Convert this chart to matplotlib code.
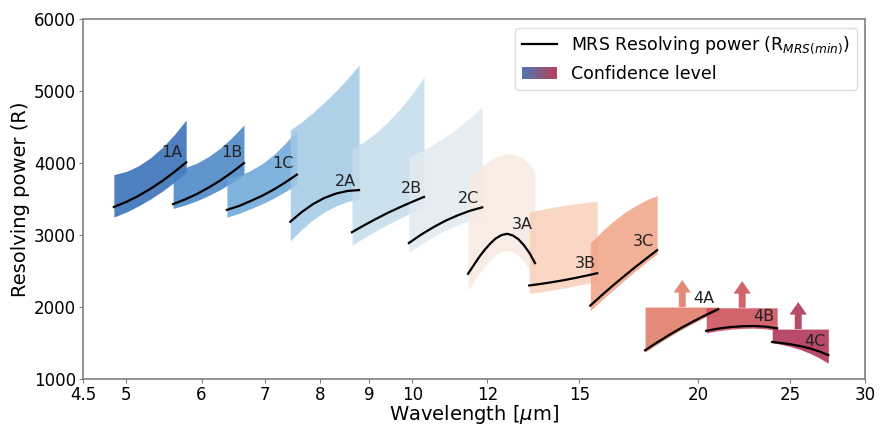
import matplotlib
matplotlib.use('Agg')
import matplotlib.pyplot as plt
from matplotlib.colors import LinearSegmentedColormap
from matplotlib.legend_handler import HandlerBase
from matplotlib.lines import Line2D
from matplotlib.patches import Rectangle, Patch
from matplotlib.ticker import NullLocator

# band names and values (wavelength in um, R)
bands = ['1A', '1B', '1C', '2A', '2B', '2C', '3A', '3B', '3C', '4A', '4B', '4C']

wl_1A = [4.85, 5.00, 5.15, 5.30, 5.46, 5.62, 5.78]
R_1A = [3390, 3461, 3546, 3642, 3755, 3879, 4010]
up_1A = [3840, 3884, 3963, 4073, 4221, 4399, 4600]
lo_1A = [3250, 3320, 3405, 3500, 3612, 3737, 3870]

wl_1B = [5.60, 5.76, 5.93, 6.10, 6.28, 6.46, 6.65]
R_1B = [3430, 3493, 3569, 3658, 3759, 3873, 4000]
up_1B = [3900, 3935, 3998, 4089, 4208, 4355, 4530]
lo_1B = [3370, 3416, 3476, 3548, 3632, 3730, 3840]

wl_1C = [6.38, 6.57, 6.75, 6.95, 7.15, 7.35, 7.56]
R_1C = [3350, 3404, 3470, 3546, 3633, 3731, 3840]
up_1C = [3790, 3827, 3895, 3991, 4118, 4274, 4460]
lo_1C = [3250, 3300, 3363, 3433, 3513, 3604, 3700]

wl_2A = [7.44, 7.65, 7.86, 8.08, 8.31, 8.55, 8.79]
R_2A = [3185, 3320, 3430, 3515, 3576, 3613, 3625]
up_2A = [4460, 4573, 4700, 4843, 5000, 5173, 5360]
lo_2A = [2920, 3078, 3212, 3320, 3404, 3465, 3500]

wl_2B = [8.64, 8.90, 9.16, 9.43, 9.71, 10.00, 10.29]
R_2B = [3040, 3136, 3225, 3310, 3388, 3462, 3530]
up_2B = [4200, 4297, 4421, 4573, 4753, 4960, 5195]
lo_2B = [2860, 2963, 3058, 3150, 3235, 3315, 3390]

wl_2C = [9.92, 10.22, 10.53, 10.84, 11.17, 11.50, 11.85]
R_2C = [2890, 3007, 3110, 3199, 3275, 3337, 3385]
up_2C = [4090, 4167, 4258, 4366, 4489, 4627, 4780]
lo_2C = [2760, 2875, 2978, 3066, 3142, 3204, 3250]

wl_3A = [11.45, 11.62, 11.77, 11.93, 12.09, 12.25, 12.42, 12.59, 12.76, 12.93, 13.11, 13.29, 13.47]
R_3A = [2463, 2590, 2700, 2800, 2885, 2955, 3000, 3018, 2995, 2945, 2860, 2750, 2610]
up_3A = [3800, 3870, 3930, 3990, 4040, 4080, 4110, 4130, 4125, 4100, 4060, 3980, 3880]
lo_3A = [2233, 2360, 2470, 2570, 2655, 2725, 2770, 2788, 2765, 2715, 2630, 2520, 2380]

wl_3B = [13.28, 13.65, 14.03, 14.42, 14.82, 15.24, 15.66]
R_3B = [2300, 2321, 2345, 2372, 2402, 2435, 2470]
up_3B = [3320, 3353, 3383, 3410, 3433, 3453, 3470]
lo_3B = [2190, 2211, 2235, 2262, 2292, 2325, 2360]

wl_3C = [15.40, 15.82, 16.25, 16.70, 17.16, 17.63, 18.11]
R_3C = [2020, 2159, 2294, 2424, 2551, 2672, 2790]
up_3C = [2890, 3046, 3183, 3303, 3403, 3486, 3550]
lo_3C = [1950, 2091, 2227, 2364, 2494, 2619, 2740]

wl_4A = [17.59, 18.12, 18.66, 19.22, 19.80, 20.39, 21.00]
R_4A = [1400, 1511, 1615, 1714, 1805, 1891, 1970]
up_4A = [2000, 2000, 2000, 2000, 2000, 2000, 2000]
lo_4A = [1375, 1486, 1590, 1689, 1780, 1866, 1945]

wl_4B = [20.40, 20.99, 21.61, 22.24, 22.88, 23.55, 24.23]
R_4B = [1670, 1700, 1722, 1733, 1737, 1728, 1705]
up_4B = [1990, 1990, 1990, 1990, 1990, 1990, 1990]
lo_4B = [1640, 1670, 1692, 1703, 1707, 1698, 1675]

wl_4C = [23.94, 24.49, 25.05, 25.63, 26.21, 26.82, 27.43]
R_4C = [1515, 1500, 1482, 1458, 1427, 1385, 1333]
up_4C = [1694, 1694, 1694, 1694, 1694, 1694, 1694]
lo_4C = [1505, 1480, 1450, 1410, 1360, 1295, 1220]

# lower limits for channel 4 (arrow position, base, tip)
arrow_wl = [19.25, 22.26, 25.50]
arrow_base = [2000, 1990, 1694]
arrow_tip = [2375, 2360, 2069]

label_wl = [5.58, 6.46, 7.31, 8.50, 9.97, 11.45, 13.05, 15.21, 17.50, 20.30, 23.48, 26.57]
label_R = [4140, 4140, 4000, 3750, 3650, 3510, 3140, 2610, 2917, 2125, 1875, 1528]

xticks = [4.5, 5, 6, 7, 8, 9, 10, 12, 15, 20, 25, 30]
yticks = [1000, 2000, 3000, 4000, 5000, 6000]

colors = ['#2f69b4', '#4381c4', '#69a5d6', '#a0c8e4', '#c4dcec', '#e1eaf2',
          '#f8e9e1', '#f8d0ba', '#f0a284', '#e07660', '#ca4955', '#ac2a50']

wls = [wl_1A, wl_1B, wl_1C, wl_2A, wl_2B, wl_2C, wl_3A, wl_3B, wl_3C, wl_4A, wl_4B, wl_4C]
Rs = [R_1A, R_1B, R_1C, R_2A, R_2B, R_2C, R_3A, R_3B, R_3C, R_4A, R_4B, R_4C]
ups = [up_1A, up_1B, up_1C, up_2A, up_2B, up_2C, up_3A, up_3B, up_3C, up_4A, up_4B, up_4C]
los = [lo_1A, lo_1B, lo_1C, lo_2A, lo_2B, lo_2C, lo_3A, lo_3B, lo_3C, lo_4A, lo_4B, lo_4C]


class GradientHandler(HandlerBase):
    def create_artists(self, legend, orig_handle, xdescent, ydescent,
                       width, height, fontsize, trans):
        cmap = LinearSegmentedColormap.from_list('bw', ['#4f77b0', '#b5425c'])
        n = 30
        arts = []
        for i in range(n):
            r = Rectangle((-xdescent + i * width / n, -ydescent), width / n * 1.1, height,
                          facecolor=cmap(i / (n - 1)), edgecolor='none', transform=trans)
            arts.append(r)
        return arts


fig, ax = plt.subplots(figsize=(8.92, 4.24), dpi=100)
fig.subplots_adjust(left=0.093, right=0.970, top=0.955, bottom=0.106)

for i in range(len(bands)):
    ax.fill_between(wls[i], los[i], ups[i], color=colors[i], alpha=0.85, lw=0)
    ax.plot(wls[i], Rs[i], color='black', lw=1.6)
    ax.text(label_wl[i], label_R[i], bands[i], ha='center', va='center',
            fontsize=11.5, color='#222222')

for j in range(3):
    ax.annotate('', xy=(arrow_wl[j], arrow_tip[j]), xytext=(arrow_wl[j], arrow_base[j]),
                arrowprops=dict(arrowstyle='simple,head_width=1.25,head_length=0.9,tail_width=0.5',
                                color=colors[9 + j], alpha=0.85, shrinkA=0, shrinkB=0, lw=0))

ax.set_xscale('log')
ax.set_xlim(4.5, 30)
ax.set_ylim(1000, 6000)
ax.set_xticks(xticks)
ax.set_xticklabels([str(t) for t in xticks])
ax.xaxis.set_minor_locator(NullLocator())
ax.set_yticks(yticks)
ax.tick_params(labelsize=12, color='#808080', length=3, pad=2)
for s in ax.spines.values():
    s.set_color('#808080')
    s.set_linewidth(1.2)

ax.set_xlabel('Wavelength [$\\mu$m]', fontsize=14, labelpad=-1)
ax.set_ylabel('Resolving power (R)', fontsize=14, labelpad=3)

handles = [Line2D([0], [0], color='black', lw=1.6), Patch()]
labels = ['MRS Resolving power (R$_{MRS(min)}$)', 'Confidence level']
ax.legend(handles, labels, loc='upper right', fontsize=12.5,
          handler_map={Patch: GradientHandler()}, framealpha=1, edgecolor='#dddddd')

fig.savefig('out.png', dpi=100)
